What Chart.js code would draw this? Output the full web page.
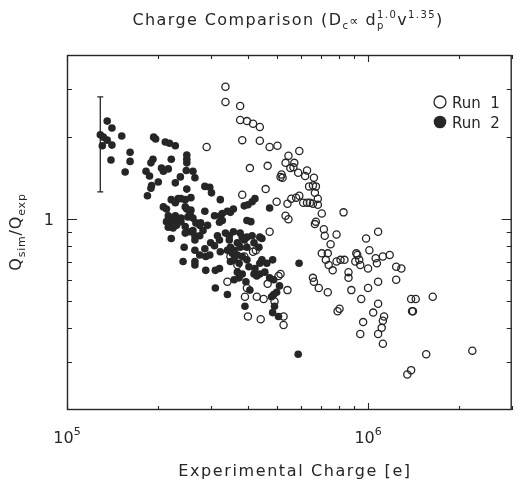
<!DOCTYPE html>
<html>
<head>
<meta charset="utf-8">
<script src="https://cdn.jsdelivr.net/npm/chart.js@4/dist/chart.umd.min.js"></script>
<style>
html, body { margin: 0; padding: 0; background: #fff; }
</style>
</head>
<body>
<canvas id="chargeChart" width="517" height="480"></canvas>
<script>
// Run 1 (open circles): experimental charge [e] and Q_sim/Q_exp
var run1Charge = [3.36e5, 3.36e5, 3.76e5, 3.76e5, 3.96e5, 4.15e5, 4.37e5, 3.82e5, 4.37e5, 2.91e5,
    4.71e5, 5.00e5, 5.91e5, 5.44e5, 5.32e5, 5.69e5, 5.65e5, 5.52e5, 5.86e5, 6.27e5,
    4.64e5, 4.05e5, 5.16e5, 5.12e5, 5.20e5, 6.61e5, 6.18e5, 6.37e5, 6.56e5, 6.71e5,
    6.66e5, 4.57e5, 3.82e5, 6.81e5, 4.97e5, 5.40e5, 5.56e5, 5.77e5, 5.91e5, 6.09e5,
    6.27e5, 6.41e5, 6.56e5, 6.81e5, 7.02e5, 8.29e5, 5.32e5, 5.44e5, 6.71e5, 6.66e5,
    7.13e5, 7.18e5, 7.86e5, 9.85e5, 1.08e6, 7.51e5, 1.01e6, 7.02e5, 7.35e5, 7.24e5,
    7.40e5, 7.63e5, 7.86e5, 8.10e5, 8.35e5, 8.61e5, 8.61e5, 9.14e5, 9.21e5, 9.07e5,
    9.35e5, 9.42e5, 1.00e6, 1.06e6, 1.07e6, 1.12e6, 1.18e6, 1.24e6, 1.29e6, 1.08e6,
    1.24e6, 1.00e6, 8.80e5, 9.49e5, 6.56e5, 6.61e5, 6.86e5, 7.35e5, 1.08e6, 1.04e6,
    1.13e6, 1.12e6, 1.11e6, 7.92e5, 8.04e5, 9.63e5, 9.42e5, 1.08e6, 1.12e6, 1.39e6,
    1.44e6, 1.40e6, 1.41e6, 1.64e6, 1.56e6, 1.35e6, 1.39e6, 2.22e6, 4.71e5, 4.24e5,
    4.15e5, 3.88e5, 3.49e5, 3.88e5, 3.68e5, 3.41e5, 3.96e5, 3.90e5, 4.64e5, 4.27e5,
    4.50e5, 5.04e5, 5.12e5, 5.40e5, 4.89e5, 5.24e5, 5.24e5, 3.99e5, 4.40e5];
var run1Ratio = [3.06, 2.69, 2.60, 2.31, 2.29, 2.24, 2.18, 1.95, 1.94, 1.84,
    1.84, 1.86, 1.78, 1.71, 1.61, 1.61, 1.55, 1.54, 1.48, 1.51,
    1.57, 1.54, 1.46, 1.43, 1.42, 1.42, 1.44, 1.32, 1.33, 1.32,
    1.25, 1.29, 1.23, 1.19, 1.16, 1.14, 1.19, 1.20, 1.22, 1.15,
    1.15, 1.15, 1.14, 1.13, 1.05, 1.06, 1.03, 1.00, 0.98, 0.96,
    0.92, 0.87, 0.88, 0.85, 0.90, 0.81, 0.77, 0.75, 0.75, 0.71,
    0.68, 0.65, 0.70, 0.71, 0.71, 0.64, 0.61, 0.75, 0.74, 0.70,
    0.71, 0.68, 0.66, 0.72, 0.69, 0.73, 0.74, 0.67, 0.66, 0.59,
    0.60, 0.56, 0.55, 0.51, 0.61, 0.59, 0.56, 0.54, 0.49, 0.455,
    0.44, 0.425, 0.40, 0.46, 0.47, 0.42, 0.38, 0.38, 0.35, 0.51,
    0.51, 0.46, 0.46, 0.52, 0.32, 0.27, 0.28, 0.33, 0.90, 0.77,
    0.76, 0.80, 0.73, 0.73, 0.68, 0.59, 0.56, 0.52, 0.58, 0.52,
    0.51, 0.62, 0.63, 0.55, 0.50, 0.44, 0.41, 0.44, 0.43];

// Run 2 (filled circles)
var run2Charge = [1.36e5, 1.41e5, 1.29e5, 1.32e5, 1.36e5, 1.31e5, 1.41e5, 1.52e5, 1.40e5, 1.62e5,
    1.62e5, 1.56e5, 1.94e5, 1.97e5, 2.12e5, 2.19e5, 2.29e5, 2.22e5, 1.93e5, 1.90e5,
    1.83e5, 1.88e5, 1.91e5, 1.90e5, 1.85e5, 2.06e5, 2.09e5, 2.17e5, 2.01e5, 2.38e5,
    2.50e5, 2.50e5, 2.50e5, 2.49e5, 2.62e5, 2.66e5, 2.34e5, 2.39e5, 2.47e5, 2.58e5,
    2.22e5, 2.29e5, 2.09e5, 2.14e5, 2.17e5, 2.22e5, 2.25e5, 2.14e5, 2.34e5, 2.39e5,
    2.56e5, 2.52e5, 2.47e5, 2.56e5, 2.47e5, 2.25e5, 2.29e5, 2.50e5, 2.87e5, 2.98e5,
    3.02e5, 3.23e5, 2.47e5, 2.50e5, 2.62e5, 2.87e5, 3.09e5, 3.28e5, 3.41e5, 3.57e5,
    3.28e5, 2.78e5, 2.93e5, 3.23e5, 3.88e5, 3.99e5, 4.12e5, 4.21e5, 4.71e5, 3.96e5,
    4.08e5, 2.76e5, 2.68e5, 2.66e5, 2.83e5, 3.36e5, 3.16e5, 3.76e5, 3.96e5, 4.37e5,
    2.22e5, 2.45e5, 2.66e5, 2.87e5, 2.76e5, 2.89e5, 2.98e5, 3.00e5, 3.09e5, 3.21e5,
    3.46e5, 3.57e5, 3.46e5, 3.49e5, 3.59e5, 3.82e5, 3.88e5, 3.68e5, 3.76e5, 3.96e5,
    4.12e5, 4.18e5, 4.44e5, 4.34e5, 3.23e5, 3.41e5, 3.54e5, 3.68e5, 3.82e5, 3.96e5,
    2.43e5, 2.66e5, 2.89e5, 3.11e5, 3.21e5, 3.49e5, 3.59e5, 3.73e5, 4.02e5, 4.37e5,
    4.44e5, 4.61e5, 4.82e5, 3.68e5, 3.82e5, 3.73e5, 3.59e5, 4.21e5, 4.18e5, 4.27e5,
    4.37e5, 4.54e5, 4.71e5, 4.86e5, 3.93e5, 4.05e5, 3.11e5, 3.41e5, 4.86e5, 4.78e5,
    4.97e5, 5.08e5, 3.90e5, 4.82e5, 5.04e5, 5.90e5, 5.86e5, 2.17e5, 2.31e5, 2.62e5,
    2.66e5, 2.66e5, 2.58e5, 2.29e5, 2.39e5, 2.56e5, 3.49e5, 2.76e5, 3.21e5, 4.89e5];
var run2Ratio = [2.29, 2.16, 2.04, 2.00, 1.95, 1.86, 1.87, 2.02, 1.65, 1.76,
    1.63, 1.49, 2.00, 1.97, 1.92, 1.90, 1.86, 1.66, 1.66, 1.61,
    1.50, 1.44, 1.33, 1.30, 1.22, 1.54, 1.50, 1.53, 1.37, 1.43,
    1.72, 1.66, 1.61, 1.51, 1.50, 1.42, 1.19, 1.19, 1.18, 1.20,
    1.18, 1.15, 1.11, 1.09, 1.03, 0.99, 0.96, 0.98, 0.98, 0.98,
    1.05, 1.02, 0.94, 0.90, 0.89, 0.93, 1.36, 1.29, 1.32, 1.31,
    1.25, 1.18, 1.11, 1.09, 1.01, 1.07, 1.03, 1.05, 1.07, 1.09,
    0.99, 0.97, 0.95, 1.03, 1.12, 1.13, 1.16, 1.19, 1.10, 0.99,
    0.98, 0.95, 0.97, 0.87, 0.91, 0.89, 0.87, 0.89, 0.86, 0.86,
    0.85, 0.79, 0.77, 0.78, 0.74, 0.73, 0.74, 0.82, 0.80, 0.84,
    0.87, 0.90, 0.84, 0.79, 0.77, 0.86, 0.84, 0.82, 0.79, 0.79,
    0.87, 0.82, 0.85, 0.79, 0.76, 0.77, 0.75, 0.74, 0.73, 0.71,
    0.70, 0.70, 0.65, 0.65, 0.66, 0.70, 0.71, 0.69, 0.67, 0.69,
    0.71, 0.69, 0.71, 0.64, 0.63, 0.61, 0.60, 0.66, 0.63, 0.62,
    0.63, 0.64, 0.61, 0.60, 0.59, 0.55, 0.56, 0.53, 0.53, 0.52,
    0.54, 0.57, 0.48, 0.455, 0.44, 0.69, 0.32, 0.935, 0.95, 0.91,
    0.84, 0.68, 1.08, 1.03, 1.01, 1.03, 1.06, 0.87, 0.975, 0.48];

// representative error bar
var errCharge = [1.29e5];
var errLow = [1.26];
var errHigh = [2.81];

var xMajor = [1e5, 1e6];
var xMinor = [2e5, 3e5, 4e5, 5e5, 6e5, 7e5, 8e5, 9e5, 2e6, 3e6];
var yMajor = [1];
var yMinor = [0.3, 0.4, 0.5, 0.6, 0.7, 0.8, 0.9, 2, 3];

var FONT = '"DejaVu Sans", sans-serif';
var INK = '#262626';

function toPoints(xs, ys) {
    return xs.map(function (x, i) { return { x: x, y: ys[i] }; });
}

function drawRich(ctx, parts, x, y, align) {
    var w = 0;
    parts.forEach(function (p) {
        ctx.font = p.s + 'px ' + FONT;
        if (!p.stay) w += ctx.measureText(p.t).width;
    });
    var cx = align === 'center' ? x - w / 2 : (align === 'right' ? x - w : x);
    parts.forEach(function (p) {
        ctx.font = p.s + 'px ' + FONT;
        ctx.fillText(p.t, cx, y + (p.dy || 0));
        if (!p.stay) cx += ctx.measureText(p.t).width;
    });
}

var decorPlugin = {
    id: 'decor',
    afterDraw: function (chart) {
        var ctx = chart.ctx;
        var a = chart.chartArea;
        var xs = chart.scales.x, ys = chart.scales.y;
        ctx.save();
        ctx.strokeStyle = INK;
        ctx.fillStyle = INK;

        // error bar
        ctx.lineWidth = 1.3;
        errCharge.forEach(function (c, i) {
            var px = xs.getPixelForValue(c);
            var top = ys.getPixelForValue(errHigh[i]);
            var bot = ys.getPixelForValue(errLow[i]);
            ctx.beginPath();
            ctx.moveTo(px, top); ctx.lineTo(px, bot);
            ctx.moveTo(px - 3, top); ctx.lineTo(px + 3, top);
            ctx.moveTo(px - 3, bot); ctx.lineTo(px + 3, bot);
            ctx.stroke();
        });

        // frame
        ctx.lineWidth = 1.4;
        ctx.strokeRect(a.left + 0.5, a.top + 0.5, a.right - a.left - 1, a.bottom - a.top - 1);

        // inward ticks
        ctx.lineWidth = 1.1;
        ctx.beginPath();
        function xTick(v, len) {
            var px = Math.round(xs.getPixelForValue(v)) + 0.5;
            ctx.moveTo(px, a.bottom); ctx.lineTo(px, a.bottom - len);
            ctx.moveTo(px, a.top); ctx.lineTo(px, a.top + len);
        }
        function yTick(v, len) {
            var py = Math.round(ys.getPixelForValue(v)) + 0.5;
            ctx.moveTo(a.left, py); ctx.lineTo(a.left + len, py);
            ctx.moveTo(a.right, py); ctx.lineTo(a.right - len, py);
        }
        xMajor.forEach(function (v) { xTick(v, 7); });
        xMinor.forEach(function (v) { xTick(v, 4); });
        yMajor.forEach(function (v) { yTick(v, 10); });
        yMinor.forEach(function (v) { yTick(v, 5); });
        ctx.stroke();

        // tick labels
        ctx.textBaseline = 'alphabetic';
        xMajor.forEach(function (v) {
            var exp = String(Math.round(Math.log10(v)));
            drawRich(ctx, [{ t: '10', s: 16 }, { t: exp, s: 11, dy: -8 }],
                xs.getPixelForValue(v), 443, 'center');
        });
        yMajor.forEach(function (v) {
            drawRich(ctx, [{ t: String(v), s: 16 }], a.left - 13, ys.getPixelForValue(v) + 6, 'right');
        });

        // title
        ctx.letterSpacing = '1.4px';
        drawRich(ctx, [
            { t: 'Charge Comparison (D', s: 16 },
            { t: 'c', s: 10, dy: 4 },
            { t: '\u221d ', s: 13 },
            { t: 'd', s: 16 },
            { t: 'p', s: 10, dy: 4, stay: true },
            { t: '1.0', s: 10, dy: -7 },
            { t: 'v', s: 16 },
            { t: '1.35', s: 10, dy: -7 },
            { t: ')', s: 16 }
        ], 288, 25, 'center');

        // x axis title
        ctx.letterSpacing = '1.6px';
        drawRich(ctx, [{ t: 'Experimental Charge [e]', s: 16 }], 295, 476, 'center');

        // y axis title
        ctx.letterSpacing = '0.8px';
        ctx.save();
        ctx.translate(21, 232);
        ctx.rotate(-Math.PI / 2);
        drawRich(ctx, [
            { t: 'Q', s: 16 }, { t: 'sim', s: 11, dy: 4 },
            { t: '/Q', s: 16 }, { t: 'exp', s: 11, dy: 4 }
        ], 0, 0, 'center');
        ctx.restore();
        ctx.letterSpacing = '0px';

        // legend
        ctx.lineWidth = 1.3;
        ctx.beginPath();
        ctx.arc(440, 102, 6, 0, Math.PI * 2);
        ctx.stroke();
        ctx.beginPath();
        ctx.arc(440, 122, 6.3, 0, Math.PI * 2);
        ctx.fill();
        drawRich(ctx, [{ t: 'Run  1', s: 15 }], 452, 108, 'left');
        drawRich(ctx, [{ t: 'Run  2', s: 15 }], 452, 128, 'left');
        ctx.restore();
    }
};

var chargeCtx = document.getElementById('chargeChart');
var chargeChart = new Chart(chargeCtx, {
    type: 'scatter',
    data: {
        datasets: [{
            label: 'Run 2',
            data: toPoints(run2Charge, run2Ratio),
            pointStyle: 'circle',
            pointRadius: 3.8,
            backgroundColor: INK,
            borderColor: INK,
            borderWidth: 0
        }, {
            label: 'Run 1',
            data: toPoints(run1Charge, run1Ratio),
            pointStyle: 'circle',
            pointRadius: 3.6,
            backgroundColor: 'rgba(0,0,0,0)',
            borderColor: INK,
            borderWidth: 1.3
        }]
    },
    options: {
        responsive: false,
        animation: false,
        devicePixelRatio: 1,
        layout: { padding: { left: 67, right: 0, top: 55, bottom: 70 } },
        plugins: {
            legend: { display: false },
            tooltip: { enabled: false },
            title: { display: false }
        },
        scales: {
            x: { type: 'logarithmic', display: false, min: 1e5, max: 3e6 },
            y: { type: 'logarithmic', display: false, min: 0.2, max: 4 }
        }
    },
    plugins: [decorPlugin]
});
</script>
</body>
</html>
